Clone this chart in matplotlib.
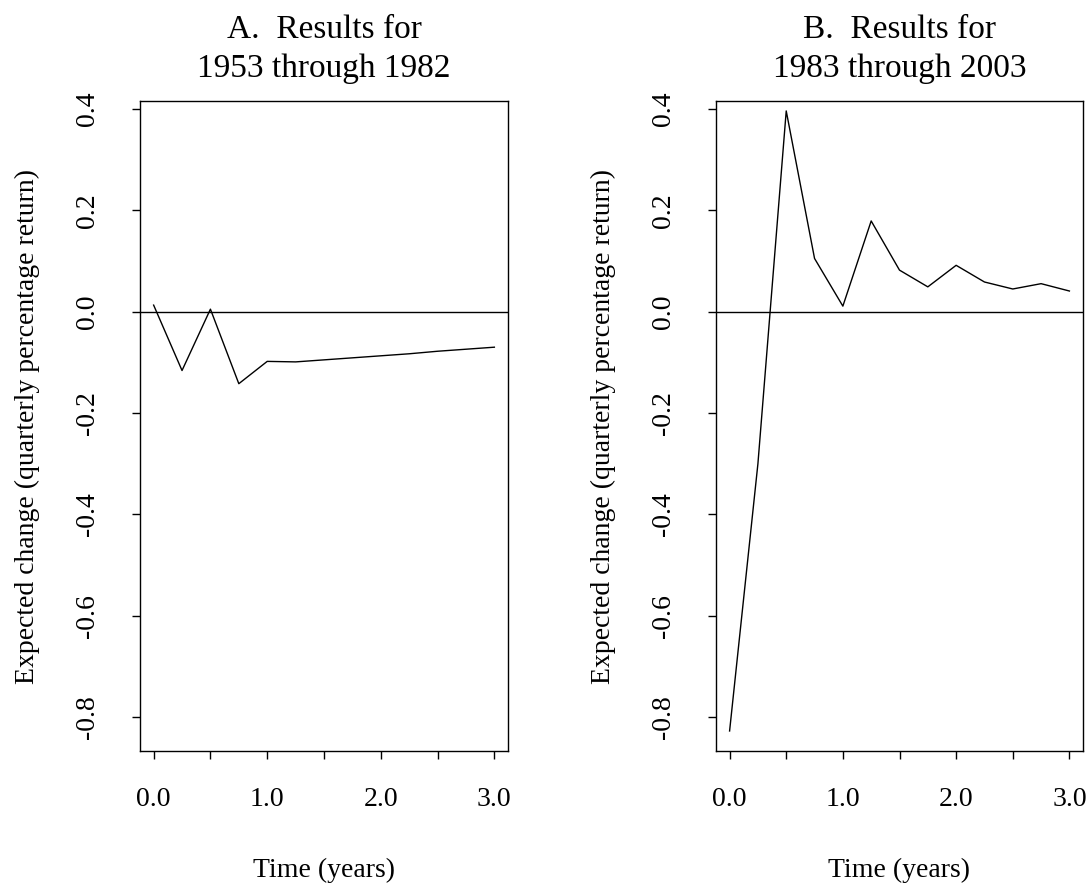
import matplotlib
matplotlib.use("Agg")
import matplotlib.pyplot as plt

plt.rcParams['font.family'] = ['Liberation Serif', 'DejaVu Serif']

# ---- data ----
time_years = [0.0, 0.25, 0.5, 0.75, 1.0, 1.25, 1.5, 1.75, 2.0, 2.25, 2.5, 2.75, 3.0]
change_1953_1982 = [0.013, -0.116, 0.005, -0.142, -0.098, -0.099, -0.095,
                    -0.091, -0.087, -0.083, -0.078, -0.074, -0.070]
change_1983_2003 = [-0.827, -0.300, 0.396, 0.105, 0.011, 0.179, 0.082,
                    0.049, 0.0915, 0.0586, 0.0448, 0.0553, 0.0408]
panel_titles = [("A.  Results for", "1953 through 1982"),
                ("B.  Results for", "1983 through 2003")]
x_tick_positions = [0.0, 0.5, 1.0, 1.5, 2.0, 2.5, 3.0]
x_tick_labels = ["0.0", "", "1.0", "", "2.0", "", "3.0"]
y_tick_positions = [-0.8, -0.6, -0.4, -0.2, 0.0, 0.2, 0.4]
y_tick_labels = ["-0.8", "-0.6", "-0.4", "-0.2", "0.0", "0.2", "0.4"]
x_label = "Time (years)"
y_label = "Expected change (quarterly percentage return)"

# ---- layout (pixels) ----
W, H = 1091, 886
fig = plt.figure(figsize=(W / 100, H / 100), dpi=100)

def fx(px):
    return px / W

def fy(py):
    return 1 - py / H

panels = [(140, 508), (716, 1083)]
top_px, bot_px = 101, 751
series = [change_1953_1982, change_1983_2003]
lw = 1.0

for (left, right), vals, (t1, t2) in zip(panels, series, panel_titles):
    ax = fig.add_axes([fx(left), fy(bot_px), (right - left) / W, (bot_px - top_px) / H])
    ax.plot(time_years, vals, color='black', lw=lw)
    ax.axhline(0, color='black', lw=lw)
    ax.set_xlim(-0.12, 3.12)
    ax.set_ylim(-0.8665, 0.4156)
    for s in ax.spines.values():
        s.set_linewidth(lw)
    ax.set_xticks(x_tick_positions)
    ax.set_xticklabels(x_tick_labels, fontsize=20)
    ax.set_yticks(y_tick_positions)
    ax.set_yticklabels(y_tick_labels, fontsize=20, rotation=90, ha='center', va='center')
    ax.tick_params(axis='x', direction='out', length=5.8, width=lw, pad=20)
    ax.tick_params(axis='y', direction='out', length=5.8, width=lw, pad=32)
    cx = (left + right) / 2
    fig.text(fx(cx), fy(38), t1, fontsize=24, ha='center', va='baseline')
    fig.text(fx(cx), fy(77), t2, fontsize=24, ha='center', va='baseline')
    fig.text(fx(cx), fy(877), x_label, fontsize=20, ha='center', va='baseline')
    fig.text(fx(left - 113), fy((top_px + bot_px) / 2), y_label, fontsize=20,
             rotation=90, ha='center', va='center')

fig.savefig("out.png", dpi=100)
